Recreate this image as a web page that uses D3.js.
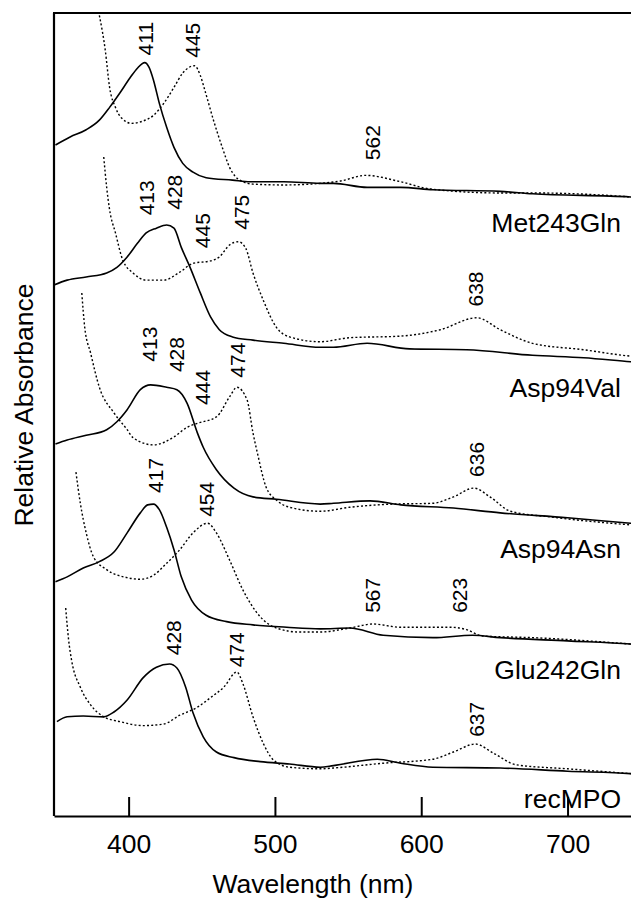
<!DOCTYPE html>
<html>
<head>
<meta charset="utf-8">
<script src="https://cdn.jsdelivr.net/npm/d3@7"></script>
<style>
  body { margin: 0; background: #fff; }
  svg text { font-family: "Liberation Sans", Arial, Helvetica, sans-serif; fill: #000; }
</style>
</head>
<body>
<svg id="chart" width="631" height="901"></svg>
<script>
// spectra, [wavelength nm, relative absorbance (offset per mutant)]
var met243GlnSolid = [[350,83.9],[360,84.9],[371,85.8],[380,87],[387,88.6],[394,90.4],[401,92.3],[406,93.5],[411,94.2],[414,93.6],[417,92],[421,89.1],[426,86.1],[431,83.6],[437,81.6],[444,80.5],[453,79.8],[471,79.5],[483,79.3],[506,79.3],[531,79.1],[540,79.1],[563,78.6],[586,78.6],[608,78.3],[654,78.1],[676,77.8],[743,77.4],[750,77.3]];
var met243GlnDot = [[380,100.1],[384,95.8],[387,91.1],[391,88.6],[395,87.3],[402,86.6],[410,86.9],[417,87.6],[424,89.1],[431,91.1],[437,92.9],[445,93.8],[449,92.6],[452,90.8],[458,87],[464,83.6],[469,81.1],[476,79.5],[485,79],[506,78.9],[531,79.1],[545,79.4],[562,80.1],[586,79.3],[606,78.4],[654,77.9],[676,77.9],[743,77.4],[750,77.3]];

var asp94ValSolid = [[349,66.4],[358,67],[371,67.4],[385,67.9],[392,68.6],[399,69.9],[406,71.6],[412,72.9],[419,73.5],[426,73.9],[431,73.5],[436,71.1],[442,68.6],[449,65.4],[456,62.4],[462,60.8],[471,59.9],[485,59.5],[506,59.1],[531,58.6],[540,58.6],[563,59.1],[592,58.4],[631,58.3],[676,57.6],[711,57.3],[743,56.8],[750,56.7]];
var asp94ValDot = [[383,82.4],[385,78.6],[387,75.8],[391,72.9],[396,69.5],[403,67.9],[412,67],[424,67],[435,68],[444,69.1],[456,69.4],[462,69.9],[469,71.4],[475,71.8],[480,71],[485,67.9],[492,64.5],[501,61.1],[510,59.9],[531,59.3],[551,59.8],[586,60],[613,60.8],[638,62.3],[654,60.8],[676,59.1],[711,58.3],[743,57.5],[750,57.4]];

var asp94AsnSolid = [[350,46.5],[358,47],[371,47.6],[385,48.3],[392,49.3],[399,50.8],[408,53.3],[415,53.9],[426,53.6],[433,53.3],[440,51.6],[447,47.9],[451,46.1],[460,43.3],[472,41],[485,39.9],[501,39.6],[531,39],[540,39.1],[565,39.4],[586,38.9],[622,38.5],[654,37.9],[700,37.3],[743,36.6],[750,36.5]];
var asp94AsnDot = [[368,65.4],[370,61.1],[374,57.9],[380,53.6],[390,50.4],[399,48.3],[403,47.3],[417,46.4],[431,47.4],[440,48.6],[447,49.1],[460,49.9],[469,52.4],[474,53.6],[481,52],[485,47.9],[488,45.4],[494,41.1],[501,39.5],[510,38.6],[531,38.1],[551,38.6],[581,39],[608,39.1],[622,39.9],[636,41],[647,39.9],[661,38.1],[688,37.4],[743,36.4],[750,36.3]];

var glu242GlnSolid = [[350,29.3],[358,29.9],[369,31],[380,31.8],[390,33],[399,35.4],[408,37.9],[413,38.9],[417,39],[421,38.3],[426,36.1],[431,33.3],[436,29.9],[443,27],[453,25.1],[467,24.3],[485,23.9],[508,23.6],[531,23.4],[551,23.5],[574,22.6],[608,22.3],[635,22.6],[654,22.3],[700,21.9],[743,21.5],[750,21.4]];
var glu242GlnDot = [[364,43],[367,39.1],[371,35.4],[376,32.4],[385,30.8],[399,29.8],[408,29.6],[417,30.1],[426,31.6],[435,33.3],[444,35.4],[454,36.6],[460,35.4],[469,32],[478,28.3],[490,24.9],[501,23.5],[517,23],[531,23],[551,23.5],[567,24],[586,23.6],[620,23.6],[631,23.3],[642,22.5],[676,22.3],[743,21.5],[750,21.4]];

var recMPOSolid = [[351,11.8],[358,12.4],[369,12.5],[383,12.4],[390,13],[399,14.5],[410,17.3],[419,18.6],[428,19],[433,18.5],[439,16.1],[444,12.9],[451,9.9],[460,8],[472,7.3],[490,6.8],[510,6.5],[531,6.1],[540,6.3],[570,7.1],[586,6.6],[608,6.1],[654,6],[700,5.6],[743,5.3],[750,5.2]];
var recMPODot = [[357,26],[359,22],[361,19.5],[367,16.1],[374,13.9],[383,12.4],[394,11.8],[410,11.3],[424,11.5],[435,12.6],[447,13.6],[456,14.8],[465,16.1],[474,18],[478,16.6],[485,12.4],[492,9.1],[499,7],[510,6.1],[531,5.9],[540,6],[574,6.6],[608,7.1],[622,8],[637,9],[649,7.9],[665,6.4],[700,5.9],[743,5.3],[750,5.2]];

var names = ["Met243Gln", "Asp94Val", "Asp94Asn", "Glu242Gln", "recMPO"];
var solids = [met243GlnSolid, asp94ValSolid, asp94AsnSolid, glu242GlnSolid, recMPOSolid];
var dots = [met243GlnDot, asp94ValDot, asp94AsnDot, glu242GlnDot, recMPODot];

// peak labels: [text, wavelength where drawn, absorbance level of label foot]
var peakLabels = [
  ["411",411.2,95.1],["445",443.7,94.8],["562",566.4,82],
  ["413",412.4,75.1],["428",431,75.8],["445",450.5,71],["475",477.3,73.3],["638",637.2,63.7],
  ["413",414,56.8],["428",432.9,55.5],["444",450.5,51.4],["474",474.4,54.8],["636",637.4,42.4],
  ["417",418,40.4],["454",452.9,37.4],["567",566.4,25.4],["623",625.8,25.4],
  ["428",430.3,20.1],["474",474,18.6],["637",637.4,9.9]
];
var xTicks = [400, 500, 600, 700];

var svg = d3.select("#chart"),
    width = +svg.attr("width");

var x = d3.scaleLinear().domain([349, 750]).range([54, 640.7]);
var y = d3.scaleLinear().domain([0, 100.4]).range([816, 13]);

var line = d3.line()
    .x(function(d) { return x(d[0]); })
    .y(function(d) { return y(d[1]); })
    .curve(d3.curveMonotoneX);

var g = svg.append("g");

g.selectAll(".solid")
    .data(solids)
    .enter().append("path")
    .attr("class", "solid")
    .attr("d", line)
    .attr("fill", "none")
    .attr("stroke", "#000")
    .attr("stroke-width", 1.6);

g.selectAll(".dot")
    .data(dots)
    .enter().append("path")
    .attr("class", "dot")
    .attr("d", line)
    .attr("fill", "none")
    .attr("stroke", "#000")
    .attr("stroke-width", 1.4)
    .attr("stroke-dasharray", "2,2.2");

// mutant names under right end of each trace
g.selectAll(".name")
    .data(names)
    .enter().append("text")
    .attr("class", "name")
    .attr("x", 621)
    .attr("y", function(d, i) {
        var s = solids[i];
        return y(s[s.length - 1][1]) + 34;
    })
    .attr("text-anchor", "end")
    .attr("font-size", 26.5)
    .text(function(d) { return d; });

g.selectAll(".peak")
    .data(peakLabels)
    .enter().append("text")
    .attr("class", "peak")
    .attr("transform", function(d) {
        return "translate(" + x(d[1]) + "," + y(d[2]) + ") rotate(-90)";
    })
    .attr("dy", "0.36em")
    .attr("font-size", 21)
    .text(function(d) { return d[0]; });

// frame
svg.append("line")
    .attr("x1", 54).attr("x2", 54)
    .attr("y1", 13).attr("y2", 816)
    .attr("stroke", "#000").attr("stroke-width", 2.2);
svg.append("line")
    .attr("x1", 53).attr("x2", width)
    .attr("y1", 13).attr("y2", 13)
    .attr("stroke", "#000").attr("stroke-width", 2.2);

var xAxis = svg.append("g")
    .attr("transform", "translate(0,816)")
    .call(d3.axisBottom(x).tickValues(xTicks).tickSize(-19).tickSizeOuter(0).tickPadding(18));
xAxis.select(".domain").attr("stroke-width", 2.2);
xAxis.selectAll(".tick line").attr("stroke-width", 2);
xAxis.selectAll(".tick text")
    .attr("font-size", 26.5)
    .attr("font-family", "Liberation Sans, Arial, sans-serif");

svg.append("text")
    .attr("x", 313)
    .attr("y", 893)
    .attr("text-anchor", "middle")
    .attr("font-size", 26.5)
    .text("Wavelength (nm)");

svg.append("text")
    .attr("transform", "translate(33,405) rotate(-90)")
    .attr("text-anchor", "middle")
    .attr("font-size", 26.5)
    .text("Relative Absorbance");
</script>
</body>
</html>
